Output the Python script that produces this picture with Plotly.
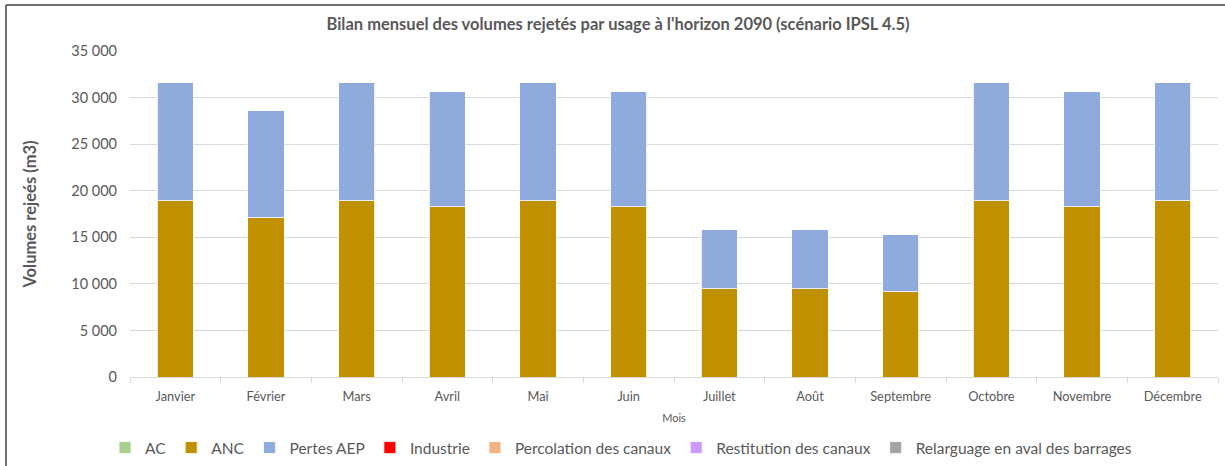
import plotly.graph_objects as go

months = ["Janvier", "Février", "Mars", "Avril", "Mai", "Juin", "Juillet",
          "Août", "Septembre", "Octobre", "Novembre", "Décembre"]
ac = [0] * 12
anc = [18910, 17080, 18910, 18300, 18910, 18300, 9455, 9455, 9150, 18910, 18300, 18910]
pertes_aep = [12710, 11480, 12710, 12300, 12710, 12300, 6355, 6355, 6150, 12710, 12300, 12710]
industrie = [0] * 12
percolation = [0] * 12
restitution = [0] * 12
relarguage = [0] * 12

series = [
    ("AC", ac, "#A9D18E"),
    ("ANC", anc, "#BF9000"),
    ("Pertes AEP", pertes_aep, "#8FAADC"),
    ("Industrie", industrie, "#FF0000"),
    ("Percolation des canaux", percolation, "#F4B183"),
    ("Restitution des canaux", restitution, "#CC99FF"),
    ("Relarguage en aval des barrages", relarguage, "#A5A5A5"),
]

y_ticks = list(range(0, 35001, 5000))
y_tick_labels = ["0" if v == 0 else f"{v // 1000} 000" for v in y_ticks]

FONT = "Lato, 'Open Sans', sans-serif"
GREY = "#595959"

fig = go.Figure()
for name, vals, color in series:
    fig.add_trace(go.Bar(
        x=months, y=vals, name=name,
        marker=dict(color=color, line=dict(color="white", width=0.8)),
    ))

# body margin is removed via post_script, so figure pixels == page pixels
W, H = 1225, 466
L = 130
T = 51
R = W - 1218
B = H - 377
pw = W - L - R
ph = H - T - B

def px_x(x):
    return (x - L) / pw

def px_y(y):
    return 1 - (y - T) / ph

fig.update_layout(
    width=W, height=H,
    barmode="stack",
    bargap=0.6,
    paper_bgcolor="white",
    plot_bgcolor="white",
    margin=dict(l=L, r=R, t=T, b=B, autoexpand=False),
    font=dict(family=FONT, color=GREY, size=13),
    title=dict(
        text="<b>Bilan mensuel des volumes rejetés par usage à l'horizon 2090 (scénario IPSL 4.5)</b>",
        x=618 / W, xanchor="center", xref="container",
        y=1 - 24 / H, yanchor="middle", yref="container",
        font=dict(size=16.5, color=GREY, family=FONT),
    ),
    xaxis=dict(
        automargin=False,
        showgrid=False,
        showline=True, linecolor="#D9D9D9", linewidth=1,
        ticks="outside", tickcolor="#D9D9D9", ticklen=5,
        tickson="boundaries",
        ticklabelstandoff=8,
        tickfont=dict(size=12.8, color=GREY),
        title=dict(text="Mois", font=dict(size=11, color=GREY), standoff=10),
    ),
    yaxis=dict(
        automargin=False,
        range=[0, 35000],
        tickvals=y_ticks, ticktext=y_tick_labels,
        showgrid=True, gridcolor="#D9D9D9", gridwidth=1,
        zeroline=False,
        tickfont=dict(size=14.5, color=GREY),
        ticks="", ticklabelstandoff=12,
        title=dict(text="<b>Volumes rejeés (m3)</b>", font=dict(size=16.5, color=GREY), standoff=30),
    ),
    legend=dict(
        orientation="h",
        xref="container", yref="container",
        x=621 / W, xanchor="center",
        y=1 - 448 / H, yanchor="middle",
        font=dict(size=15.5, color=GREY),
        traceorder="normal",
    ),
    showlegend=True,
)

# chart frame border (top + left)
fig.add_shape(type="line", xref="paper", yref="paper",
              x0=px_x(6), x1=px_x(1240),
              y0=px_y(5), y1=px_y(5),
              line=dict(color="#404040", width=1.5))
fig.add_shape(type="line", xref="paper", yref="paper",
              x0=px_x(6), x1=px_x(6),
              y0=px_y(5), y1=px_y(480),
              line=dict(color="#404040", width=1.5))

fig.write_html("out.html",
               config={"displayModeBar": False},
               post_script="document.body.style.margin='0px';document.body.style.padding='0px';")
